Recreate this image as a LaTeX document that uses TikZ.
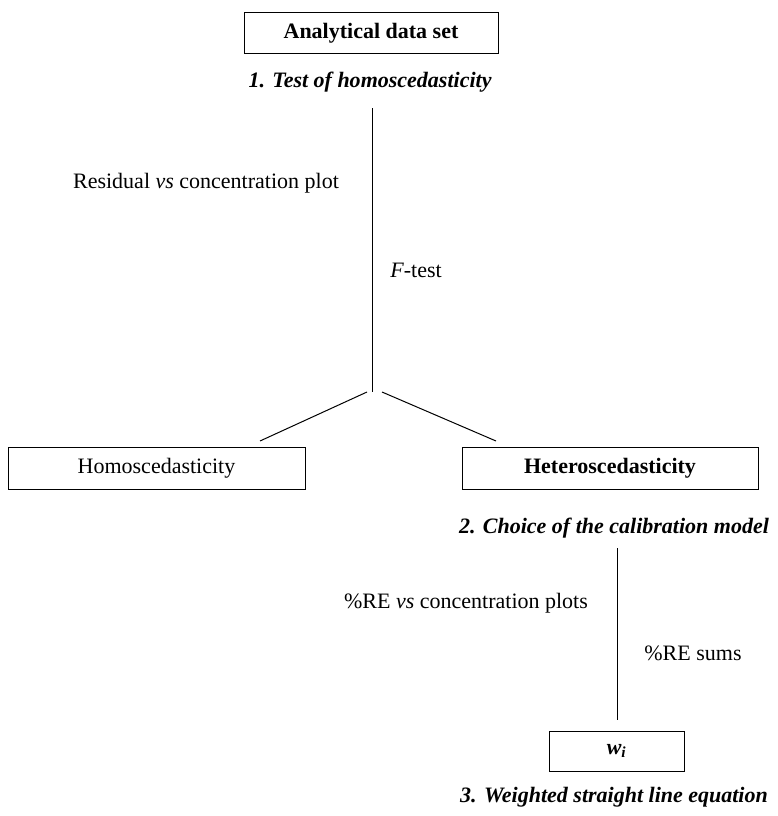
\documentclass[tikz,border=0pt]{standalone}
\usepackage{fontspec}
\setmainfont{Liberation Serif}
\newcommand\chartsize{\fontsize{22}{26}\selectfont}
\tikzset{
  stagebox/.style={draw, line width=1pt, inner sep=0pt, minimum height=41pt},
  stagetext/.style={inner sep=0.75pt, font=\chartsize\bfseries\itshape},
  linklabel/.style={inner sep=0.75pt, font=\chartsize},
  link/.style={line width=1pt}
}
\begin{document}
\begin{tikzpicture}[x=1pt,y=1pt,yscale=-1,xscale=1,font=\chartsize]
\useasboundingbox (0,0) rectangle (777,816);

%Shape: Rectangle [data set]
\node (dataset) [stagebox, minimum width=254pt, font=\chartsize\bfseries] at (371,33.5) {Analytical data set};
% Text Node
\node (testhomo) [stagetext] at (370,82) {1. Test of homoscedasticity};

%Straight Lines [test]
\coordinate (testtop) at (372,108);
\coordinate (fork) at (372,392);
\draw [link] (testtop) -- (fork);
% Text Node
\node (residual) [linklabel] at (206,183) {Residual \textit{vs} concentration plot};
% Text Node
\node (ftest) [linklabel] at (416,270) {\textit{F}-test};

%Straight Lines [branches]
\coordinate (leftstart) at (367,392);
\coordinate (leftend) at (260,441);
\coordinate (rightstart) at (382,392);
\coordinate (rightend) at (496,441);
\draw [link] (leftstart) -- (leftend);
\draw [link] (rightstart) -- (rightend);

%Shape: Rectangle [homo]
\node (homo) [stagebox, minimum width=297pt, minimum height=42pt] at (156.5,468) {Homoscedasticity};
%Shape: Rectangle [hetero]
\node (hetero) [stagebox, minimum width=296pt, minimum height=42pt, font=\chartsize\bfseries] at (610,468) {Heteroscedasticity};
% Text Node
\node (choice) [stagetext] at (614,528) {2. Choice of the calibration model};

%Straight Lines [model]
\coordinate (modeltop) at (617,548);
\coordinate (modelend) at (617,720);
\draw [link] (modeltop) -- (modelend);
% Text Node
\node (replots) [linklabel] at (466,603) {\%RE \textit{vs} concentration plots};
% Text Node
\node (resums) [linklabel] at (693,653) {\%RE sums};

%Shape: Rectangle [weights]
\node (weights) [stagebox, minimum width=135pt, minimum height=40pt, font=\chartsize\bfseries\itshape] at (616.5,751) {\raisebox{-2pt}{w\textsubscript{i}}};
% Text Node
\node (weighted) [stagetext] at (614,797) {3. Weighted straight line equation};

\end{tikzpicture}
\end{document}
